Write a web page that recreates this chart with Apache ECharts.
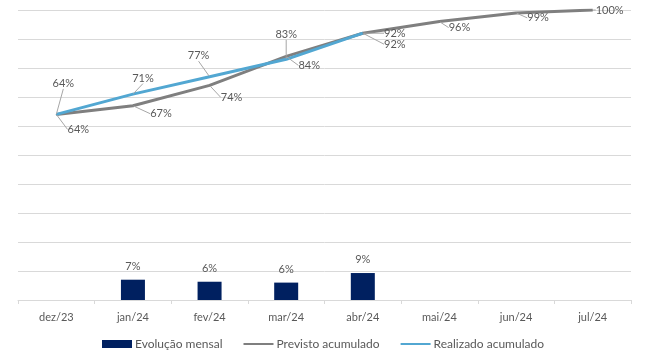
<!DOCTYPE html>
<html><head><meta charset="utf-8">
<script src="https://cdn.jsdelivr.net/npm/echarts@6/dist/echarts.min.js"></script>
<style>html,body{margin:0;padding:0;background:#fff}#c{width:646px;height:351px}</style>
</head><body><div id="c"></div>
<script>
const categories = ['dez/23','jan/24','fev/24','mar/24','abr/24','mai/24','jun/24','jul/24'];
const evolucaoMensal = [null, 7.0, 6.3, 6.0, 9.3, null, null, null];
const previstoAcumulado = [64, 67, 74, 84, 92, 96, 99, 100];
const realizadoAcumulado = [64, 71, 77, 83, 92, null, null, null];

// label offsets (layout only)
const prevOffsets = [[22,15],[28,8],[22,12],[23,9],[32,11],[20,6],[22,5],[17,0]];
const realOffsets = [[7,-31],[10,-16],[-11,-21],[0,-25],[32,0]];

const fontFam = 'Lato, "Open Sans", sans-serif';
const txt = '#595959';
const chart = echarts.init(document.getElementById('c'));
chart.setOption({
  animation: false,
  grid: {left: 18, right: 15, top: 10, bottom: 51},
  legend: {
    top: 333, left: 'center', itemGap: 20, itemWidth: 30, itemHeight: 8,
    textStyle: {color: txt, fontSize: 12, fontFamily: fontFam, padding: [0, 0, 0, -2]},
    data: [
      {name: 'Evolução mensal', icon: 'rect'},
      {name: 'Previsto acumulado', itemStyle: {opacity: 0}},
      {name: 'Realizado acumulado', itemStyle: {opacity: 0}}
    ]
  },
  xAxis: {
    type: 'category', data: categories,
    axisLine: {lineStyle: {color: '#d9d9d9'}},
    axisTick: {show: true, length: 4, lineStyle: {color: '#d9d9d9'}},
    axisLabel: {color: txt, fontSize: 11, fontFamily: fontFam, margin: 12}
  },
  yAxis: {
    type: 'value', min: 0, max: 100, interval: 10,
    axisLabel: {show: false}, axisLine: {show: false}, axisTick: {show: false},
    splitLine: {lineStyle: {color: '#d9d9d9', width: 1}}
  },
  series: [
    {
      name: 'Evolução mensal', type: 'bar', data: evolucaoMensal, barWidth: 24,
      itemStyle: {color: '#002060'},
      label: {show: true, position: 'top', distance: 8, color: txt, fontSize: 11, fontFamily: fontFam,
        formatter: p => Math.round(p.value) + '%'}
    },
    {
      name: 'Previsto acumulado', type: 'line', data: previstoAcumulado,
      symbol: 'circle', symbolSize: 1, showSymbol: true,
      lineStyle: {color: '#7f7f7f', width: 3}, itemStyle: {color: '#7f7f7f'},
      label: {show: true, position: 'inside', color: txt, fontSize: 11, fontFamily: fontFam,
        formatter: p => p.value + '%'},
      labelLayout: p => ({dx: prevOffsets[p.dataIndex][0], dy: prevOffsets[p.dataIndex][1]}),
      labelLine: {show: true, lineStyle: {color: '#a6a6a6', width: 1}}
    },
    {
      name: 'Realizado acumulado', type: 'line', data: realizadoAcumulado,
      symbol: 'circle', symbolSize: 1, showSymbol: true,
      lineStyle: {color: '#52a7d2', width: 3}, itemStyle: {color: '#52a7d2'},
      label: {show: true, position: 'inside', color: txt, fontSize: 11, fontFamily: fontFam,
        formatter: p => p.value + '%'},
      labelLayout: p => ({dx: realOffsets[p.dataIndex][0], dy: realOffsets[p.dataIndex][1]}),
      labelLine: {show: true, lineStyle: {color: '#a6a6a6', width: 1}}
    }
  ]
});
</script></body></html>
